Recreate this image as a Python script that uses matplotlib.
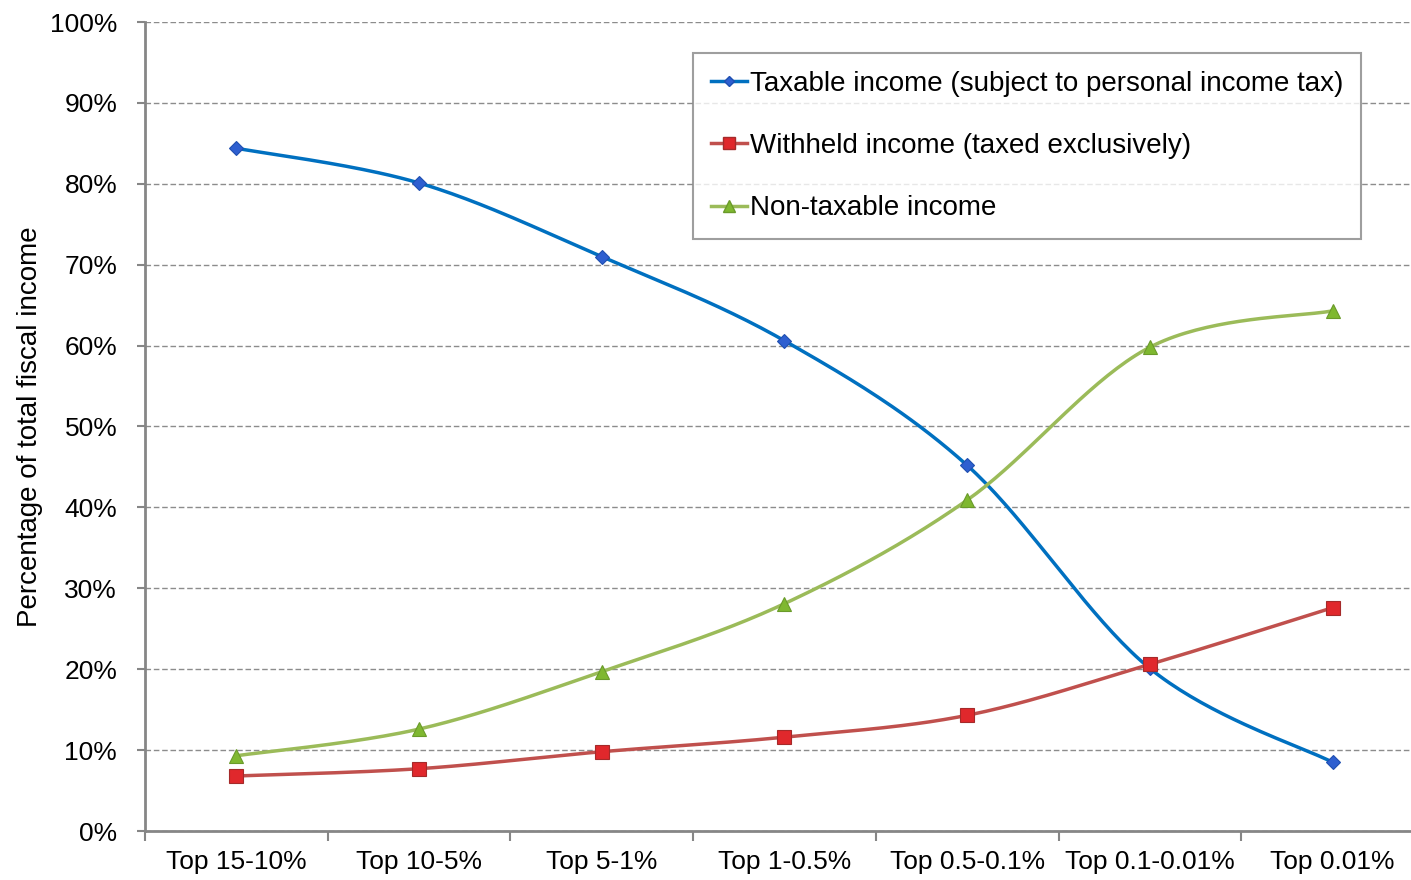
import numpy as np
import matplotlib
matplotlib.use("Agg")
import matplotlib.pyplot as plt
from matplotlib.ticker import PercentFormatter

plt.rcParams['font.family'] = ['Liberation Sans', 'DejaVu Sans']

categories = ['Top 15-10%', 'Top 10-5%', 'Top 5-1%', 'Top 1-0.5%',
              'Top 0.5-0.1%', 'Top 0.1-0.01%', 'Top 0.01%']
taxable = [84.4, 80.1, 71.0, 60.6, 45.2, 20.1, 8.5]
withheld = [6.8, 7.7, 9.8, 11.6, 14.3, 20.6, 27.6]
non_taxable = [9.3, 12.6, 19.7, 28.1, 40.9, 59.8, 64.3]


def smooth(xs, ys, n=40):
    # Excel-like smoothed line: cubic bezier segments, catmull-rom control points
    pts = np.column_stack([xs, ys]).astype(float)
    ext = np.vstack([pts[0], pts, pts[-1]])
    out = []
    for i in range(len(pts) - 1):
        p0, p1, p2, p3 = ext[i], ext[i + 1], ext[i + 2], ext[i + 3]
        c1 = p1 + (p2 - p0) / 6
        c2 = p2 - (p3 - p1) / 6
        t = np.linspace(0, 1, n)[:, None]
        seg = ((1 - t) ** 3) * p1 + 3 * ((1 - t) ** 2) * t * c1 + 3 * (1 - t) * t ** 2 * c2 + t ** 3 * p2
        out.append(seg if i == 0 else seg[1:])
    out = np.vstack(out)
    return out[:, 0], out[:, 1]


fig = plt.figure(figsize=(14.11, 8.8), dpi=100)
ax = fig.add_axes([145 / 1411, 1 - 831 / 880, (1411 - 145) / 1411, (831 - 22) / 880])

x = np.arange(len(categories))
series = [
    (taxable, '#0070C0', 'D', '#2E5FD0', '#1F4FB0', 7, 'Taxable income (subject to personal income tax)'),
    (withheld, '#C0504D', 's', '#E0282C', '#A52A2A', 10, 'Withheld income (taxed exclusively)'),
    (non_taxable, '#9BBB59', '^', '#7FB830', '#6A9A2A', 10, 'Non-taxable income'),
]
handles = []
for ys, col, mk, fc, ec, ms, lab in series:
    sx, sy = smooth(x, ys)
    ax.plot(sx, sy, color=col, lw=2.5, zorder=3)
    ax.plot(x, ys, linestyle='none', marker=mk, markersize=ms,
            markerfacecolor=fc, markeredgecolor=ec, markeredgewidth=0.8, zorder=4)
    h, = ax.plot([], [], color=col, lw=2.5, marker=mk, markersize=ms - 2,
                 markerfacecolor=fc, markeredgecolor=ec, label=lab)
    handles.append(h)

ax.set_xlim(-0.5, (1411 - 145) / 182.7 - 0.5)
ax.set_ylim(0, 100)
ax.yaxis.set_major_locator(plt.MultipleLocator(10))
ax.yaxis.set_major_formatter(PercentFormatter(decimals=0))
ax.set_xticks(x)
ax.set_xticklabels(categories)
ax.set_xticks(np.arange(-0.5, 6.5, 1), minor=True)
ax.tick_params(axis='x', which='major', length=0, pad=14, labelsize=19)
ax.tick_params(axis='x', which='minor', length=7, width=1.5, color='#868686', direction='out')
ax.tick_params(axis='y', length=6, width=1.5, color='#868686', labelsize=19, pad=14)
ax.grid(axis='y', linestyle=(0, (4, 2)), color='#8C8C8C', lw=1)
ax.set_axisbelow(True)
for s in ['top', 'right']:
    ax.spines[s].set_visible(False)
for s in ['left', 'bottom']:
    ax.spines[s].set_color('#868686')
    ax.spines[s].set_linewidth(2)
ax.set_ylabel('Percentage of total fiscal income', fontsize=20)
ax.yaxis.set_label_coords(-(145 - 43) / 1266, 0.5)

leg = ax.legend(handles=handles, loc='upper left', bbox_to_anchor=((693 - 145) / 1266, 1 - (53 - 22) / 809),
                fontsize=20, frameon=True, fancybox=False, handlelength=1.3, handletextpad=0.1,
                labelspacing=1.3, borderpad=0.65, borderaxespad=0)
leg.get_frame().set_edgecolor('#868686')
leg.get_frame().set_linewidth(1.5)

fig.savefig('out.png', dpi=100)
